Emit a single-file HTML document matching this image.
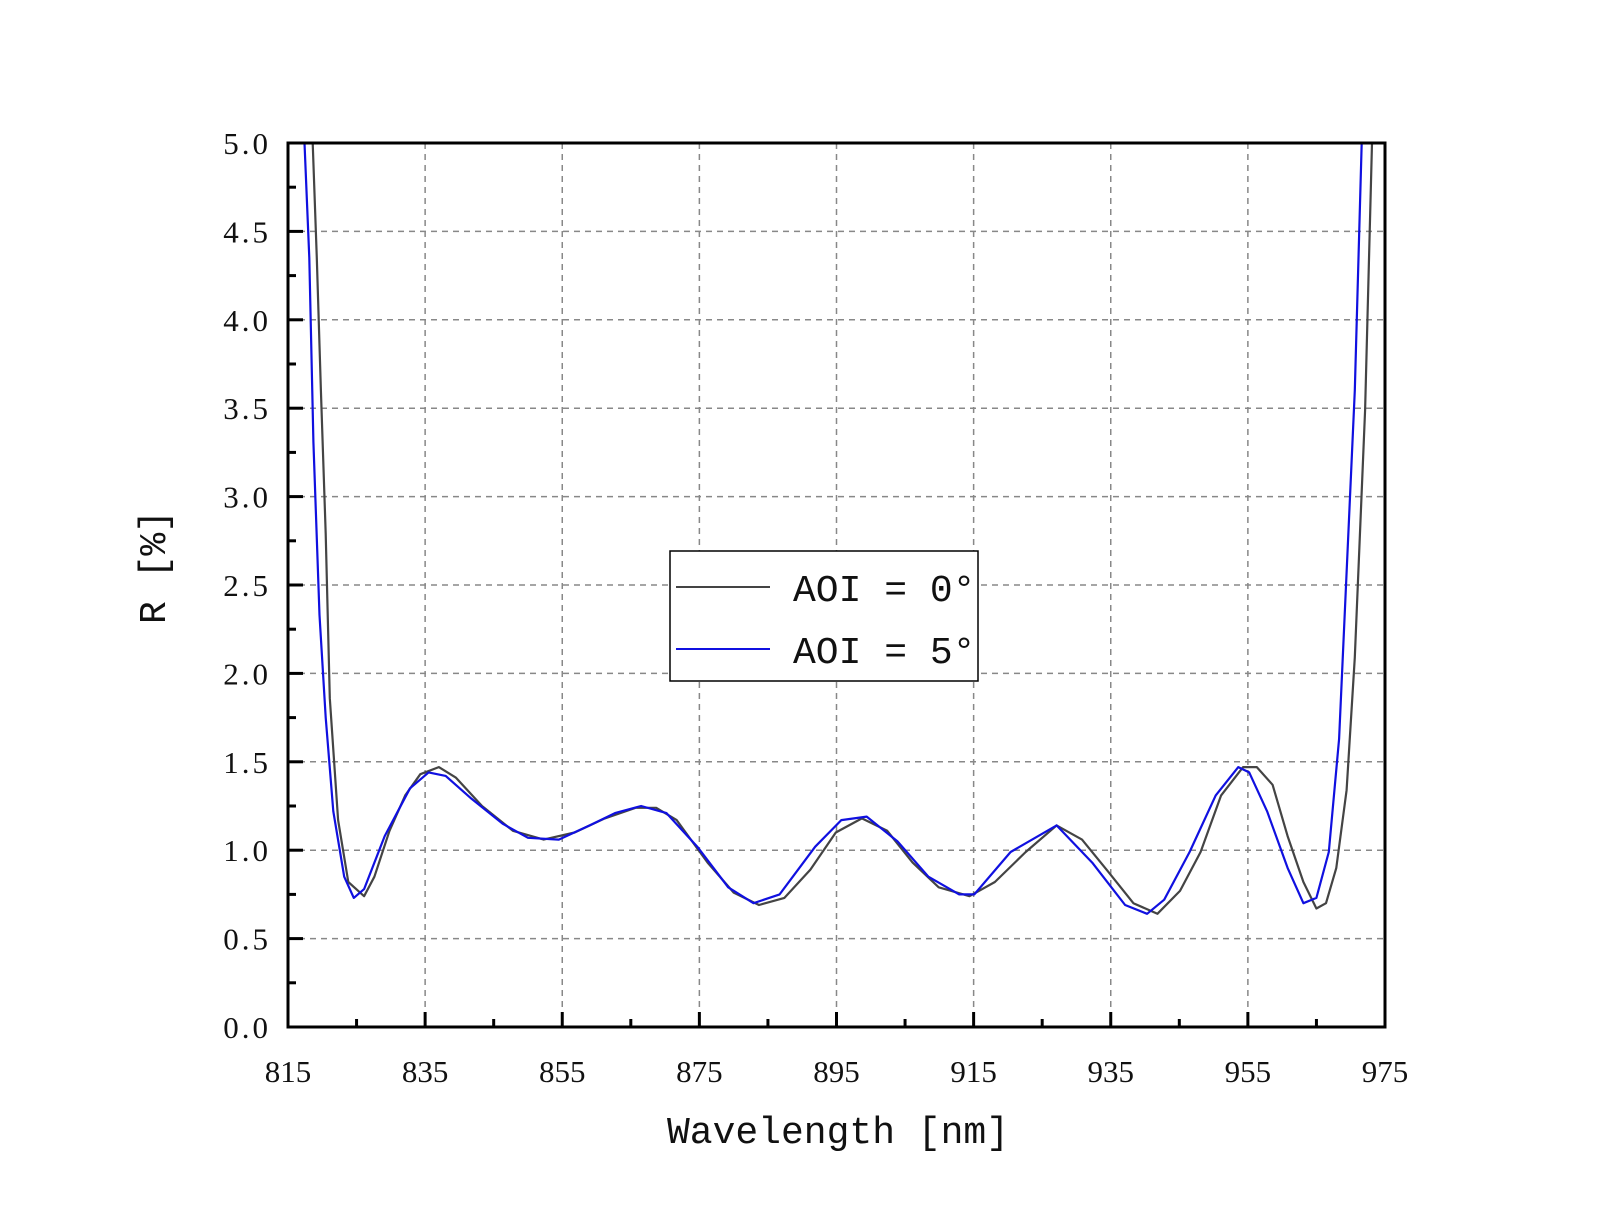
<!DOCTYPE html>
<html><head><meta charset="utf-8"><style>
body{margin:0;background:#fff}
svg{display:block}
.tk{font-family:"Liberation Serif","Noto Serif CJK SC",serif;font-size:31px;fill:#111}
.tt{font-family:"Liberation Mono","Noto Sans CJK SC",monospace;font-size:38px;fill:#111}
</style></head><body>
<svg id="chart" width="1608" height="1231" viewBox="0 0 1608 1231" xmlns="http://www.w3.org/2000/svg">
<defs><clipPath id="pc"><rect x="288" y="143" width="1097" height="884"/></clipPath></defs>
<g id="grid"></g>
<g id="series" clip-path="url(#pc)"></g>
<rect x="288" y="143" width="1097" height="884" fill="none" stroke="#000" stroke-width="3"/>
<g id="ticks"></g>
<text class="tt" x="838" y="1143" text-anchor="middle">Wavelength [nm]</text>
<text class="tt" x="0" y="0" text-anchor="middle" transform="translate(165,567) rotate(-90)">R [%]</text>
<g>
<rect x="670" y="551" width="308" height="130" fill="#fff" stroke="#000" stroke-width="1.5"/>
<line x1="676" y1="587" x2="770" y2="587" stroke="#444" stroke-width="2"/>
<text class="tt" x="793" y="601">AOI = 0°</text>
<line x1="676" y1="649" x2="770" y2="649" stroke="#1010e0" stroke-width="2"/>
<text class="tt" x="793" y="663">AOI = 5°</text>
</g>
</svg>
<script>
const xTicks=[815,835,855,875,895,915,935,955,975];
const yTicks=[0,0.5,1.0,1.5,2.0,2.5,3.0,3.5,4.0,4.5,5.0];
const wl0=[818.6,819.2,819.8,820.5,821.1,822.3,823.8,826.1,827.6,829.8,832.1,834.3,837.0,839.5,843.3,847.8,852.3,856.8,861.2,865.7,868.7,871.7,876.2,880.0,883.7,887.4,891.2,894.9,898.7,902.4,906.1,909.9,914.4,918.1,922.6,927.1,930.8,934.6,938.3,941.8,945.1,948.1,951.1,954.3,956.3,958.6,960.8,963.1,965.0,966.4,967.9,969.4,970.6,972.1,973.1,973.6];
const r0=[5.0,4.35,3.6,2.79,1.86,1.17,0.82,0.74,0.85,1.11,1.31,1.43,1.47,1.41,1.25,1.11,1.06,1.10,1.18,1.24,1.24,1.17,0.93,0.76,0.69,0.73,0.89,1.10,1.18,1.11,0.93,0.79,0.74,0.82,0.99,1.14,1.06,0.88,0.70,0.64,0.77,0.99,1.31,1.47,1.47,1.37,1.08,0.82,0.67,0.70,0.90,1.34,2.09,3.49,5.0,5.4];
const wl5=[817.2,817.4,818.1,818.7,819.6,820.5,821.6,823.2,824.6,826.1,829.1,832.8,835.5,838.0,841.8,846.3,850.0,854.5,859.0,862.7,866.5,870.2,874.7,879.2,882.9,886.7,891.9,895.7,899.4,903.9,908.4,912.9,915.1,920.4,927.1,932.3,937.1,940.3,942.8,946.5,950.3,953.6,955.2,957.8,960.8,963.1,965.0,966.8,968.3,969.8,970.6,971.6];
const r5=[5.4,5.0,4.35,3.31,2.33,1.75,1.22,0.85,0.73,0.78,1.08,1.35,1.44,1.42,1.29,1.15,1.07,1.06,1.14,1.21,1.25,1.21,1.02,0.79,0.70,0.75,1.02,1.17,1.19,1.05,0.85,0.75,0.75,0.99,1.14,0.93,0.69,0.64,0.72,0.99,1.31,1.47,1.44,1.22,0.90,0.70,0.73,0.99,1.63,2.91,3.60,5.0];
const X0=288,X1=1385,Y0=1027,Y1=143;
function xs(v){return X0+(v-815)/160*(X1-X0);}
function ys(v){return Y0-v/5*(Y0-Y1);}
const NS="http://www.w3.org/2000/svg";
const grid=document.getElementById('grid'),ticks=document.getElementById('ticks'),ser=document.getElementById('series');
function mk(tag,attrs,parent){const e=document.createElementNS(NS,tag);for(const k in attrs)e.setAttribute(k,attrs[k]);parent.appendChild(e);return e;}
xTicks.forEach((t,i)=>{
  const x=xs(t);
  if(i>0&&i<xTicks.length-1){const g=mk('line',{x1:x,y1:Y1,x2:x,y2:Y0,stroke:'#888','stroke-width':1.5,'stroke-dasharray':'6,5'},grid);
  
  }
  const l=mk('line',{x1:x,y1:Y0,x2:x,y2:Y0-15,stroke:'#000','stroke-width':3},ticks);
  
  
  if(i<xTicks.length-1){const m=mk('line',{x1:xs(t+10),y1:Y0,x2:xs(t+10),y2:Y0-8,stroke:'#000','stroke-width':3},ticks);
  
  }
  const tx=mk('text',{x:x,y:1082,'text-anchor':'middle',class:'tk'},ticks);
  tx.textContent=t;
  
  
});
yTicks.forEach((t,i)=>{
  const y=ys(t);
  if(i>0&&i<yTicks.length-1){const g=mk('line',{x1:X0,y1:y,x2:X1,y2:y,stroke:'#888','stroke-width':1.5,'stroke-dasharray':'6,5'},grid);
  
  }
  const l=mk('line',{x1:X0,y1:y,x2:X0+15,y2:y,stroke:'#000','stroke-width':3},ticks);
  
  
  if(i<yTicks.length-1){const m=mk('line',{x1:X0,y1:ys(t+0.25),x2:X0+8,y2:ys(t+0.25),stroke:'#000','stroke-width':3},ticks);
  
  }
  const tx=mk('text',{x:271,y:y+11,'text-anchor':'end',class:'tk','letter-spacing':'3'},ticks);
  tx.textContent=t.toFixed(1);
  
  
});
function line(wl,r,color,name){
  const d=wl.map((w,i)=>(i?'L':'M')+xs(w).toFixed(1)+','+ys(r[i]).toFixed(1)).join(' ');
  const p=mk('path',{d:d,fill:'none',stroke:color,'stroke-width':2.2,'stroke-linejoin':'round'},ser);
  
  
}
line(wl0,r0,'#444','series-aoi-0');
line(wl5,r5,'#1010e0','series-aoi-5');
</script>
</body></html>
